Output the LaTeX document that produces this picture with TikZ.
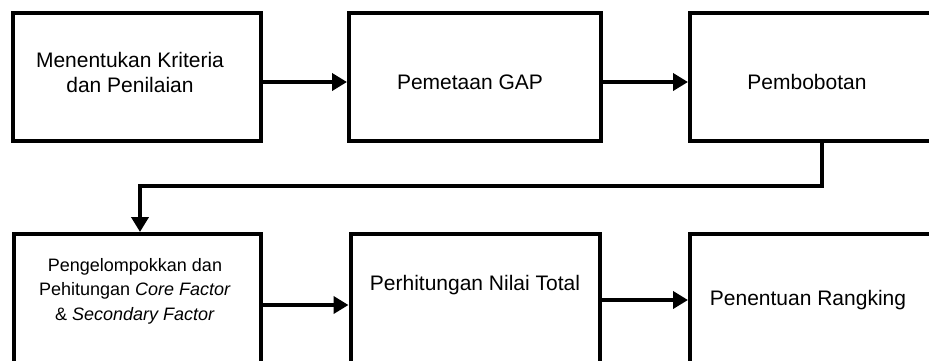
\documentclass[tikz,border=0pt]{standalone}
\usepackage{fontspec}
\setmainfont{Liberation Sans}
\usetikzlibrary{arrows.meta}
\begin{document}
\begin{tikzpicture}[x=1pt,y=-1pt,
  box/.style={draw=black,line width=4pt,fill=white,minimum width=#1,minimum height=128pt,inner sep=0pt},
  boxlow/.style={draw=black,line width=4pt,fill=white,minimum width=#1,minimum height=150pt,inner sep=0pt},
  lbl/.style={font=\fontsize{21}{25}\selectfont,align=center,inner sep=0pt},
  lblsmall/.style={font=\fontsize{18}{24.5}\selectfont,align=center,inner sep=0pt},
  arr/.style={line width=4pt,-{Triangle[length=15pt,width=17pt]}},
  conn/.style={line width=4pt}]
\useasboundingbox (0,0) rectangle (929,360);
\clip (0,0) rectangle (929,360);
% top row
\node[box=248pt] (b1) at (137,77) {};
\node[box=252pt] (b2) at (475,77) {};
\node[box=260pt] (b3) at (820,77) {};
% bottom row
\node[boxlow=247pt] (b4) at (137,309) {};
\node[boxlow=249pt] (b5) at (475,309) {};
\node[boxlow=260pt] (b6) at (820,309) {};
% texts
\node[lbl] (t1) at (130,72) {Menentukan Kriteria\\dan Penilaian};
\node[lbl] (t2) at (470,82) {Pemetaan GAP};
\node[lbl] (t3) at (807,82) {Pembobotan};
\node[lblsmall] (t4) at (135,291) {Pengelompokkan dan\\Pehitungan \textit{Core Factor}\\\& \textit{Secondary Factor}};
\node[lbl] (t5) at (475,285) {Perhitungan Nilai Total};
\node[lbl] (t6) at (808,300) {Penentuan Rangking};
% connectors
\draw[arr] (b1.east |- t2) -- (b2.west |- t2);
\draw[arr] (b2.east |- t3) -- (b3.west |- t3);
\coordinate (k1) at (822,186);
\coordinate (k2) at (140,186);
\draw[conn] (b3.south -| k1) -- (k1) -- (k2);
\draw[arr] ([xshift=2pt]k2) -- (k2) -- (k2 |- b4.north);
\draw[arr] (b4.east |- 0,305) -- (b5.west |- 0,305);
\draw[arr] (b5.east |- t6) -- (b6.west |- t6);
\end{tikzpicture}
\end{document}
